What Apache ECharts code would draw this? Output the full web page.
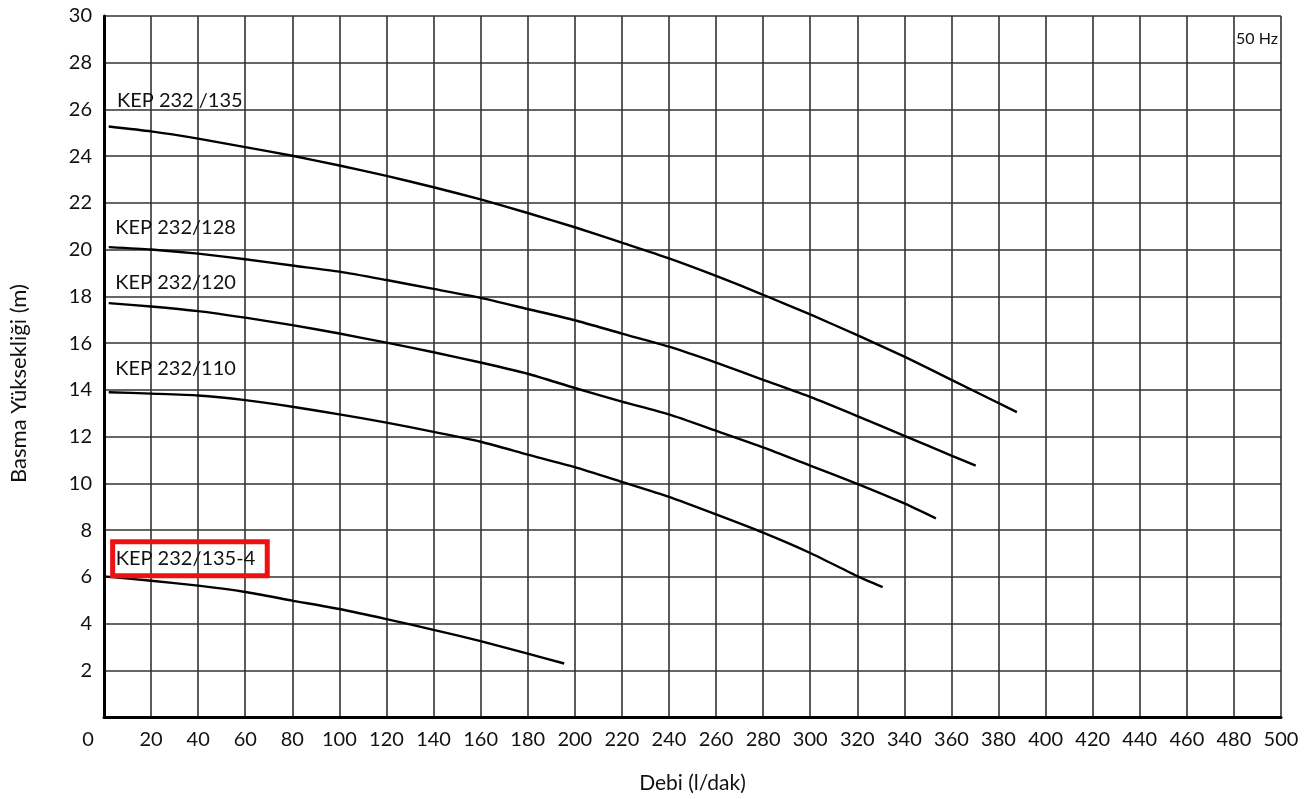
<!DOCTYPE html>
<html>
<head>
<meta charset="utf-8">
<script src="https://cdn.jsdelivr.net/npm/echarts@6/dist/echarts.min.js"></script>
<style>
html,body{margin:0;padding:0;background:#fff;overflow:hidden;}
#chart{width:1305px;height:799px;}
</style>
</head>
<body>
<div id="chart"></div>
<script>
// ---- data ----
const seriesNames = ['KEP 232 /135', 'KEP 232/128', 'KEP 232/120', 'KEP 232/110', 'KEP 232/135-4'];

const flow135 = [2, 20, 40, 60, 80, 100, 120, 140, 160, 180, 200, 220, 240, 260, 280, 300, 320, 340, 360, 387.8];
const head135 = [25.27, 25.06, 24.75, 24.39, 24.02, 23.6, 23.16, 22.67, 22.15, 21.57, 20.96, 20.3, 19.63, 18.88, 18.07, 17.23, 16.34, 15.42, 14.43, 13.05];

const flow128 = [2, 20, 40, 60, 80, 100, 120, 140, 160, 180, 200, 220, 240, 260, 280, 300, 320, 340, 360, 370.3];
const head128 = [20.11, 20.01, 19.83, 19.59, 19.32, 19.06, 18.7, 18.32, 17.94, 17.46, 16.98, 16.41, 15.85, 15.17, 14.43, 13.7, 12.88, 12.03, 11.19, 10.76];

const flow120 = [2, 20, 40, 60, 80, 100, 120, 140, 160, 180, 200, 220, 240, 260, 280, 300, 320, 340, 353.4];
const head120 = [17.71, 17.57, 17.37, 17.09, 16.77, 16.41, 16.02, 15.61, 15.17, 14.69, 14.08, 13.5, 12.95, 12.25, 11.54, 10.76, 9.98, 9.14, 8.5];

const flow110 = [2, 20, 40, 60, 80, 100, 120, 140, 160, 180, 200, 220, 240, 260, 280, 300, 320, 330.8];
const head110 = [13.9, 13.84, 13.76, 13.56, 13.28, 12.95, 12.6, 12.2, 11.78, 11.23, 10.69, 10.06, 9.42, 8.67, 7.89, 7.02, 6.03, 5.56];

const flow1354 = [0, 20, 40, 60, 80, 100, 120, 140, 160, 180, 195.5];
const head1354 = [6.02, 5.83, 5.62, 5.35, 4.98, 4.62, 4.19, 3.73, 3.25, 2.71, 2.29];

const xAxisTitle = 'Debi (l/dak)';
const yAxisTitle = 'Basma Yüksekliği (m)';
const freqNote = '50 Hz';

// ---- chart ----
const FONT = 'Lato';
const flows = [flow135, flow128, flow120, flow110, flow1354];
const heads = [head135, head128, head120, head110, head1354];
// label anchor points (data space) for the curve names
const labelAnchor = [[5.5, 26.37], [4.8, 20.93], [4.8, 18.6], [4.8, 14.93], [5.8, 6.81]];

const series = seriesNames.map((name, i) => {
  const highlighted = i === 4;
  return {
    name: name,
    type: 'line',
    smooth: 0.2,
    symbol: 'none',
    lineStyle: { color: '#000', width: 2.4 },
    data: flows[i].map((x, k) => [x, heads[i][k]]),
    markPoint: {
      symbol: 'circle',
      symbolSize: 0,
      silent: true,
      data: [{ coord: labelAnchor[i], value: name }],
      label: {
        show: true,
        position: 'inside',
        align: 'left',
        verticalAlign: 'middle',
        formatter: name,
        color: '#111',
        fontFamily: FONT,
        fontSize: 20,
        borderColor: highlighted ? '#ee1111' : 'transparent',
        borderWidth: highlighted ? 5 : 0,
        padding: highlighted ? [7, 12, 7, 3] : 0,
        offset: highlighted ? [-5, 1] : [0, 0]
      }
    }
  };
});

const chart = echarts.init(document.getElementById('chart'), null, { renderer: 'canvas' });
chart.setOption({
  backgroundColor: '#fff',
  animation: false,
  textStyle: { fontFamily: FONT },
  grid: { left: 102, right: 24, top: 16, bottom: 75, containLabel: false },
  xAxis: {
    type: 'value',
    min: 0, max: 500, interval: 20,
    name: xAxisTitle,
    nameLocation: 'middle',
    nameGap: 56,
    nameTextStyle: { color: '#111', fontSize: 21, fontFamily: FONT },
    axisLine: { show: true, lineStyle: { color: '#000', width: 3 } },
    axisTick: { show: false },
    axisLabel: {
      color: '#111', fontSize: 20, fontFamily: FONT, margin: 13,
      formatter: v => v === 0 ? '{z|0}' : String(v),
      rich: { z: { fontSize: 20, fontFamily: FONT, color: '#111', padding: [0, 32, 0, 0] } }
    },
    splitLine: { show: true, lineStyle: { color: '#333', width: 1.6 } }
  },
  yAxis: {
    type: 'value',
    min: 0, max: 30, interval: 2,
    name: yAxisTitle,
    nameLocation: 'middle',
    nameGap: 74,
    nameTextStyle: { color: '#111', fontSize: 22, fontFamily: FONT, padding: [0, 34, 0, 0] },
    axisLine: { show: true, lineStyle: { color: '#000', width: 3 } },
    axisTick: { show: false },
    axisLabel: { color: '#111', fontSize: 20, fontFamily: FONT, margin: 12, showMinLabel: false },
    splitLine: { show: true, lineStyle: { color: '#333', width: 1.6 } }
  },
  graphic: [{
    type: 'text',
    right: 27,
    top: 31,
    style: { text: freqNote, fill: '#111', fontFamily: FONT, fontSize: 16 }
  }],
  series: series
});
</script>
</body>
</html>
